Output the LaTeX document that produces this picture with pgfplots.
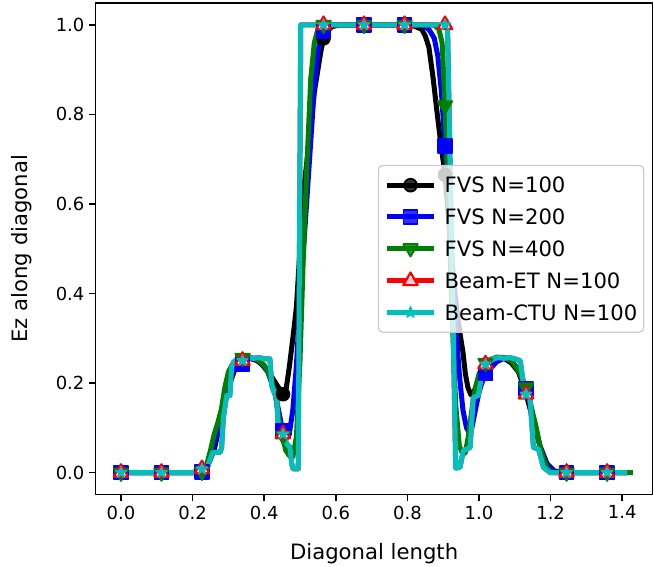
\documentclass[border=0pt]{standalone}
\usepackage{fontspec}
\setmainfont{DejaVu Sans}
\usepackage{pgfplots}
\pgfplotsset{compat=1.18}
\usepackage{pgfplotstable}
\definecolor{mplgreen}{rgb}{0,0.5,0}
\definecolor{mplcyan}{rgb}{0,0.75,0.75}

\pgfdeclareplotmark{fstar}{%
  \pgfpathmoveto{\pgfpointpolar{90}{\pgfplotmarksize}}%
  \pgfpathlineto{\pgfpointpolar{126}{0.39\pgfplotmarksize}}%
  \pgfpathlineto{\pgfpointpolar{162}{\pgfplotmarksize}}%
  \pgfpathlineto{\pgfpointpolar{198}{0.39\pgfplotmarksize}}%
  \pgfpathlineto{\pgfpointpolar{234}{\pgfplotmarksize}}%
  \pgfpathlineto{\pgfpointpolar{270}{0.39\pgfplotmarksize}}%
  \pgfpathlineto{\pgfpointpolar{306}{\pgfplotmarksize}}%
  \pgfpathlineto{\pgfpointpolar{342}{0.39\pgfplotmarksize}}%
  \pgfpathlineto{\pgfpointpolar{18}{\pgfplotmarksize}}%
  \pgfpathlineto{\pgfpointpolar{54}{0.39\pgfplotmarksize}}%
  \pgfpathclose
  \pgfusepathqfillstroke
}

\pgfplotstableread{
x y
0 0
0.20 0
0.22 0.002
0.24 0.012
0.26 0.05
0.28 0.12
0.30 0.19
0.32 0.235
0.34 0.25
0.36 0.255
0.38 0.25
0.40 0.237
0.42 0.215
0.44 0.19
0.455 0.172
0.46 0.18
0.47 0.235
0.48 0.30
0.49 0.37
0.50 0.50
0.505 0.57
0.51 0.63
0.52 0.70
0.53 0.78
0.54 0.85
0.55 0.90
0.558 0.94
0.566 0.97
0.575 0.986
0.59 0.996
0.61 1.0
0.80 1.0
0.82 0.997
0.84 0.99
0.85 0.975
0.86 0.95
0.872 0.88
0.882 0.81
0.891 0.75
0.905 0.665
0.92 0.52
0.93 0.42
0.94 0.35
0.947 0.31
0.955 0.27
0.962 0.22
0.969 0.19
0.977 0.174
0.985 0.178
0.995 0.20
1.01 0.225
1.03 0.245
1.05 0.254
1.07 0.255
1.09 0.245
1.11 0.225
1.13 0.18
1.15 0.12
1.17 0.06
1.19 0.02
1.21 0.004
1.23 0
1.414 0
}\fvsA

\pgfplotstableread{
x y
0 0
0.21 0
0.23 0.005
0.25 0.03
0.27 0.09
0.29 0.16
0.31 0.22
0.33 0.245
0.35 0.255
0.37 0.255
0.39 0.245
0.41 0.225
0.43 0.18
0.44 0.14
0.45 0.10
0.46 0.075
0.47 0.085
0.48 0.14
0.49 0.24
0.50 0.38
0.51 0.50
0.52 0.62
0.53 0.74
0.54 0.86
0.55 0.94
0.56 0.98
0.57 0.995
0.59 1.0
0.84 1.0
0.86 0.99
0.875 0.97
0.885 0.93
0.895 0.85
0.905 0.73
0.915 0.60
0.925 0.46
0.935 0.33
0.945 0.22
0.955 0.14
0.965 0.10
0.972 0.09
0.98 0.10
0.99 0.14
1.00 0.18
1.01 0.205
1.02 0.22
1.035 0.235
1.05 0.248
1.07 0.255
1.09 0.25
1.11 0.23
1.125 0.20
1.14 0.16
1.155 0.11
1.17 0.06
1.185 0.025
1.20 0.008
1.215 0
1.414 0
}\fvsB

\pgfplotstableread{
x y
0 0
0.22 0
0.23 0.005
0.24 0.02
0.25 0.05
0.26 0.085
0.27 0.11
0.28 0.14
0.29 0.19
0.30 0.225
0.31 0.24
0.32 0.25
0.34 0.256
0.36 0.258
0.38 0.252
0.40 0.24
0.41 0.225
0.42 0.205
0.43 0.18
0.44 0.125
0.45 0.085
0.46 0.05
0.47 0.038
0.48 0.035
0.49 0.08
0.50 0.25
0.51 0.50
0.52 0.70
0.53 0.88
0.54 0.96
0.55 0.99
0.56 1.0
0.875 1.0
0.888 0.99
0.897 0.96
0.905 0.82
0.915 0.60
0.925 0.35
0.935 0.15
0.945 0.06
0.955 0.04
0.962 0.045
0.97 0.08
0.98 0.14
0.99 0.19
1.00 0.22
1.01 0.24
1.03 0.252
1.05 0.258
1.07 0.257
1.09 0.25
1.10 0.24
1.115 0.22
1.131 0.19
1.145 0.15
1.16 0.10
1.17 0.06
1.18 0.03
1.19 0.01
1.20 0.002
1.21 0
1.43 0
}\fvsC

\pgfplotstableread{
x y
0 0
0.20 0
0.212 0.003
0.226 0.008
0.24 0.009
0.249 0.03
0.256 0.045
0.277 0.045
0.281 0.056
0.286 0.123
0.295 0.172
0.304 0.172
0.309 0.235
0.314 0.246
0.325 0.254
0.34 0.25
0.355 0.257
0.37 0.255
0.385 0.257
0.40 0.254
0.416 0.254
0.421 0.194
0.435 0.164
0.44 0.094
0.453 0.086
0.463 0.064
0.472 0.056
0.477 0.019
0.481 0.008
0.495 0.008
0.502 1.0
0.912 1.0
0.935 0.01
0.947 0.012
0.956 0.049
0.975 0.056
0.984 0.168
0.998 0.172
1.012 0.239
1.026 0.246
1.04 0.254
1.055 0.257
1.07 0.255
1.085 0.257
1.10 0.254
1.115 0.25
1.128 0.176
1.142 0.172
1.152 0.056
1.166 0.053
1.18 0.012
1.198 0
1.414 0
}\beam

\pgfplotstableread{
x a b c d
0      0     0     0     0
0.1131 0     0     0     0
0.2263 0.003 0.002 0.002 0.008
0.3394 0.25  0.243 0.256 0.25
0.4525 0.175 0.094 0.082 0.086
0.5657 0.97  0.985 1.0   1.0
0.6788 1.0   1.0   1.0   1.0
0.7920 1.0   1.0   1.0   1.0
0.9051 0.665 0.73  0.82  1.0
1.0182 0.232 0.221 0.245 0.242
1.1314 0.18  0.186 0.19  0.175
1.2445 0     0     0     0
1.3576 0     0     0     0
}\marks

\begin{document}
\begin{tikzpicture}
\begin{axis}[
  name=ax, at={(0,0)}, anchor=south west,
  scale only axis, width=401bp, height=353.7bp,
  xmin=-0.0707, xmax=1.4849, ymin=-0.0488, ymax=1.0484,
  xtick={0,0.2,0.4,0.6,0.8,1.0,1.2,1.4},
  xticklabels={0.0,0.2,0.4,0.6,0.8,1.0,1.2,1.4},
  ytick={0,0.2,0.4,0.6,0.8,1.0},
  yticklabels={0.0,0.2,0.4,0.6,0.8,1.0},
  tick align=outside, tick pos=left,
  major tick length=4.6bp,
  every tick/.style={black, line width=1.05bp},
  axis line style={line width=1.05bp},
  every tick label/.append style={font=\fontsize{13}{15.6}\selectfont},
  xlabel={Diagonal length}, ylabel={Ez along diagonal},
  label style={font=\fontsize{15.3}{18}\selectfont},
  xlabel style={at={(axis description cs:0.5,-0.1334)}, anchor=base},
  ylabel style={at={(axis description cs:-0.1224,0.5)}, anchor=base, rotate=0},
  line join=round,
  legend image code/.code={
    \draw[mark repeat=2,mark phase=2,#1] plot coordinates {(0bp,0bp) (16.8bp,0bp) (33.6bp,0bp)};
  },
  legend style={
    at={(0.985,0.5)}, anchor=east,
    draw=black!20, line width=0.9bp, rounded corners=3bp,
    fill=white, fill opacity=0.8, draw opacity=1, text opacity=1,
    font=\fontsize{15.3}{18}\selectfont,
    inner xsep=4.5bp, inner ysep=8.6bp,
    row sep=11.5bp, column sep=6bp,
    nodes={text height=11.2bp, text depth=0bp, inner sep=0bp, fill opacity=1},
  },
  legend cell align=left,
]
\addlegendimage{black, line width=3.6bp, mark=*, mark size=4.6bp, mark options={line width=1.3bp, fill=black}}
\addlegendentry{FVS N=100}
\addlegendimage{blue, line width=3.6bp, mark=square*, mark size=5bp, mark options={line width=1.3bp, fill=blue}}
\addlegendentry{FVS N=200}
\addlegendimage{mplgreen, line width=3.6bp, mark=triangle*, mark size=6bp, mark options={line width=1.3bp, fill=mplgreen, rotate=180}}
\addlegendentry{FVS N=400}
\addlegendimage{red, line width=3.6bp, mark=triangle*, mark size=6bp, mark options={line width=1.6bp, fill=white}}
\addlegendentry{Beam-ET N=100}
\addlegendimage{mplcyan, line width=3.6bp, mark=fstar, mark size=4.2bp, mark options={line width=1bp, fill=mplcyan}}
\addlegendentry{Beam-CTU N=100}

\addplot[black, line width=3.6bp, no marks, forget plot] table[x=x,y=y] {\fvsA};
\addplot[only marks, forget plot, mark=*, mark size=4.6bp, black, mark options={line width=1.3bp, fill=black}] table[x=x,y=a] {\marks};
\addplot[blue, line width=3.6bp, no marks, forget plot] table[x=x,y=y] {\fvsB};
\addplot[only marks, forget plot, mark=square*, mark size=5bp, blue, mark options={line width=1.3bp, fill=blue}] table[x=x,y=b] {\marks};
\addplot[mplgreen, line width=3.6bp, no marks, forget plot] table[x=x,y=y] {\fvsC};
\addplot[only marks, forget plot, mark=triangle*, mark size=6bp, mplgreen, mark options={line width=1.3bp, fill=mplgreen, rotate=180}] table[x=x,y=c] {\marks};
\addplot[red, line width=3.6bp, no marks, forget plot] table[x=x,y=y] {\beam};
\addplot[only marks, forget plot, mark=triangle*, mark size=6bp, red, mark options={line width=1.6bp, fill=white}] table[x=x,y=d] {\marks};
\addplot[mplcyan, line width=3.6bp, no marks, forget plot] table[x=x,y=y] {\beam};
\addplot[only marks, forget plot, mark=fstar, mark size=4.2bp, mplcyan, mark options={line width=1bp, fill=mplcyan}] table[x=x,y=d] {\marks};
\end{axis}
\pgfresetboundingbox
\path[use as bounding box] (-68.9bp,-52.2bp) rectangle (402.0bp,356.0bp);
\end{tikzpicture}
\end{document}
